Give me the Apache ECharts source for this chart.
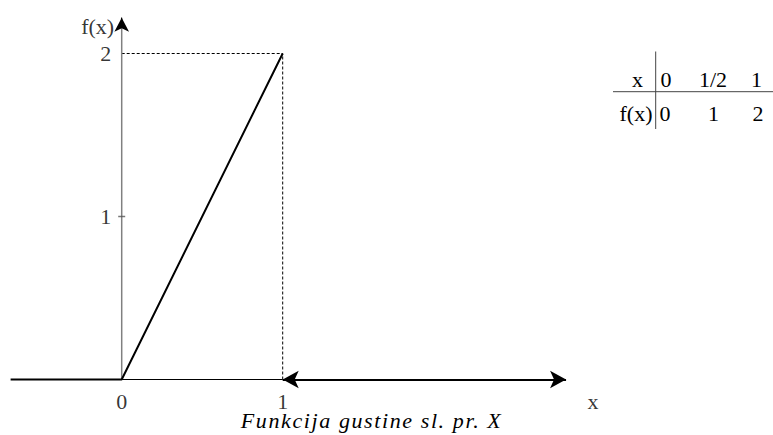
<!DOCTYPE html>
<html>
<head>
<meta charset="utf-8">
<script src="https://cdn.jsdelivr.net/npm/echarts@6/dist/echarts.min.js"></script>
<style>html,body{margin:0;padding:0;background:#fff}#c{width:773px;height:435px}</style>
</head>
<body>
<div id="c"></div>
<script>
// density f(x): 0 for x<0, 2x on [0,1], 0 for x>1
const densityX = [-0.69, 0, 1];
const densityY = [0, 0, 2];
const tailX = [1, 2.76];          // f(x)=0 for x>1 (double arrow)
const guideH = [[0, 2], [1, 2]];  // dashed y=2
const guideV = [[1, 0], [1, 2]];  // dashed x=1
const axisX = [[0, 0], [1, 0]];   // x axis between 0 and 1
const yAxisTop = 2.22;
const xTickVals = [0, 1];
const xTickLabels = ['0', '1'];
const yTickVals = [1, 2];
const yTickLabels = ['1', '2'];
const xName = 'x';
const yName = 'f(x)';
const caption = 'Funkcija gustine sl. pr. X';
const tableHead = ['x', '0', '1/2', '1'];
const tableRow = ['f(x)', '0', '1', '2'];

const FONT = '"Liberation Serif", "DejaVu Serif", serif';
const FS = 22;
const chart = echarts.init(document.getElementById('c'), null, {renderer: 'svg'});

const lbl = (off, extra) => Object.assign({show: true, position: 'inside', offset: off,
  fontFamily: FONT, fontSize: FS, lineHeight: 16, color: '#000', align: 'center', verticalAlign: 'middle'}, extra || {});

const g = [];
const headXs = [637.5, 666, 713, 756.5];
const rowXs = [636, 665, 713.5, 758];
tableHead.forEach((t, i) => g.push({type: 'text', x: headXs[i], y: 79,
  style: {text: t, font: FS + 'px ' + FONT, fill: '#000', textAlign: 'center', textVerticalAlign: 'middle'}}));
tableRow.forEach((t, i) => g.push({type: 'text', x: rowXs[i], y: 113,
  style: {text: t, font: FS + 'px ' + FONT, fill: '#000', textAlign: 'center', textVerticalAlign: 'middle'}}));
g.push({type: 'line', shape: {x1: 655.7, y1: 51.5, x2: 655.7, y2: 129}, style: {stroke: '#444', lineWidth: 1}});
g.push({type: 'line', shape: {x1: 613, y1: 91.7, x2: 773, y2: 91.7}, style: {stroke: '#444', lineWidth: 1}});
g.push({type: 'text', x: 371.6, y: 420.5,
  style: {text: caption, font: 'italic ' + FS + 'px ' + FONT, lineHeight: 16, fill: '#000',
    textAlign: 'center', textVerticalAlign: 'middle'}});

chart.setOption({
  animation: false,
  backgroundColor: '#fff',
  grid: {left: 0.95, right: 168.3, top: 4.6, bottom: 14.75},
  xAxis: {type: 'value', min: -0.75, max: 3.0, show: false},
  yAxis: {type: 'value', min: -0.25, max: 2.3, show: false},
  graphic: g,
  series: [
    {type: 'line', data: axisX, symbol: 'none', lineStyle: {color: '#000', width: 1.2}, z: 2},
    {type: 'line', data: guideH, symbol: 'none', lineStyle: {color: '#000', width: 1, type: [3, 2]}, z: 2},
    {type: 'line', data: guideV, symbol: 'none', lineStyle: {color: '#000', width: 1, type: [3, 2]}, z: 2},
    {type: 'line', data: densityX.map((x, i) => [x, densityY[i]]), symbol: 'none',
      lineStyle: {color: '#000', width: 2}, z: 4,
      markLine: {silent: true, symbol: ['arrow', 'arrow'], symbolSize: [13, 16], label: {show: false},
        lineStyle: {color: '#000', width: 2, type: 'solid'},
        data: [[{coord: [tailX[0], 0]}, {coord: [tailX[1], 0]}]]}},
    {type: 'line', data: [[0, 0], [0, yAxisTop]], symbol: 'none', lineStyle: {color: '#808080', width: 1.5}, z: 3,
      markLine: {silent: true, symbol: ['none', 'arrow'], symbolSize: [11, 14], label: {show: false},
        lineStyle: {color: '#000', width: 1, type: 'solid'},
        data: [[{coord: [0, yAxisTop - 0.04]}, {coord: [0, yAxisTop]}]]}},
    {type: 'scatter', data: [[0, 1]], symbol: 'rect', symbolSize: [7, 1.5], itemStyle: {color: '#555'}, z: 5},
    {type: 'scatter', data: xTickVals.map((v, i) => ({value: [v, 0],
      label: lbl([0, 21.5], {formatter: xTickLabels[i]})})),
      symbolSize: 0, z: 6},
    {type: 'scatter', data: yTickVals.map((v, i) => ({value: [0, v], label: lbl([-16, 0], {formatter: yTickLabels[i]})})),
      symbolSize: 0, z: 6},
    {type: 'scatter', data: [{value: [tailX[1], 0], label: lbl([27, 22], {formatter: xName})},
                             {value: [0, yAxisTop], label: lbl([-24, 9], {formatter: yName})}],
      symbolSize: 0, z: 6}
  ]
});
// the caption in the reference is set with expanded letter spacing
document.querySelectorAll('#c text').forEach(t => {
  if (t.textContent === caption) t.style.letterSpacing = '1.6px';
});
</script>
</body>
</html>
